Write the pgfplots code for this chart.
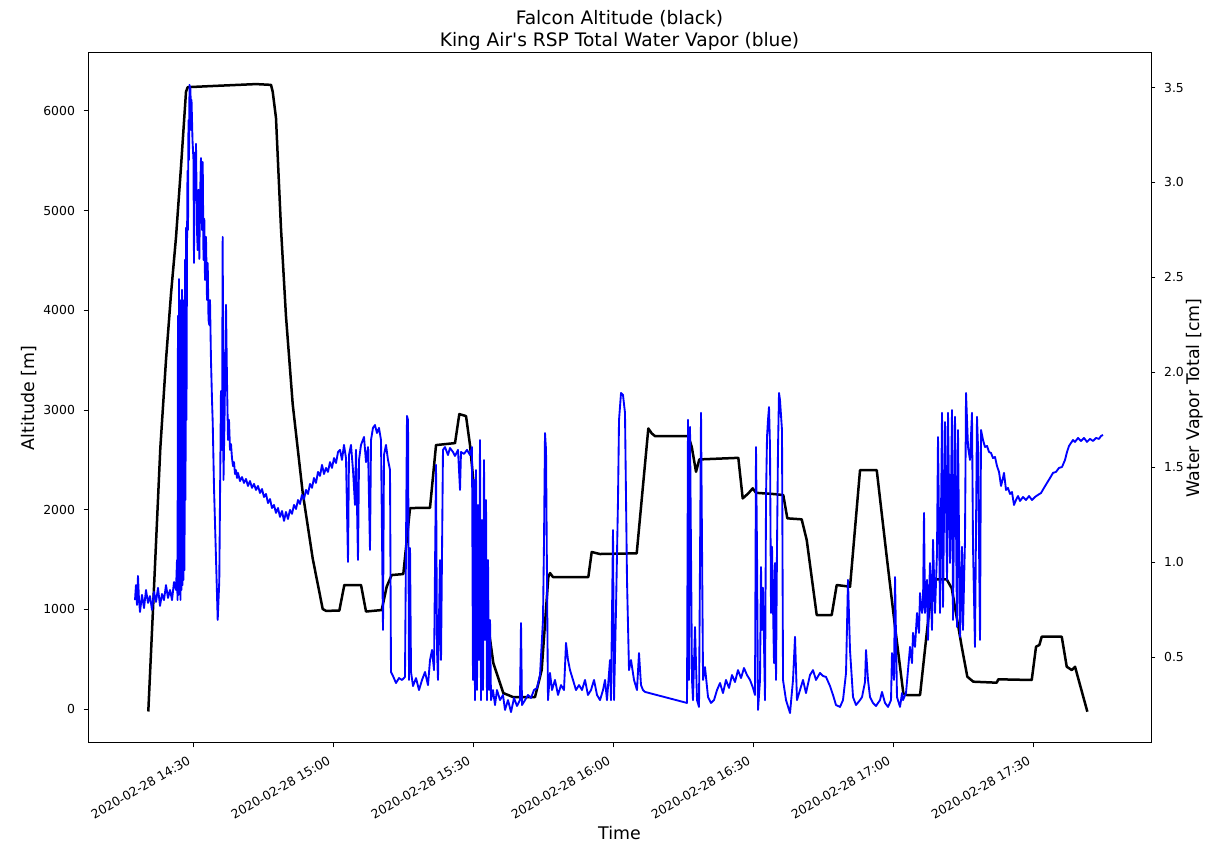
\documentclass[border=0pt]{standalone}
\usepackage{fontspec}
\setmainfont{DejaVu Sans}
\usepackage{pgfplots}
\pgfplotsset{compat=1.18}
\begin{document}
\begin{tikzpicture}[x=1pt,y=1pt]
\useasboundingbox (0,0) rectangle (1211,842);
\pgfplotsset{
  common/.style={
    at={(88pt,99pt)}, anchor=south west,
    scale only axis, width=1063pt, height=690pt,
    xmin=7.5, xmax=235.27,
    tick align=outside,
    major tick length=4.3pt,
    every tick/.style={black, line width=1pt},
    axis line style={black, line width=1pt},
    /pgf/number format/assume math mode=true,
    tick label style={font=\fontsize{12.4}{14}\selectfont},
  }
}
\begin{axis}[common,
  ymin=-341, ymax=6582,
  xtick={30,60,90,120,150,180,210},
  xticklabels={2020-02-28 14:30,2020-02-28 15:00,2020-02-28 15:30,2020-02-28 16:00,2020-02-28 16:30,2020-02-28 17:00,2020-02-28 17:30},
  xtick pos=left, ytick pos=left,
  ytick={0,1000,2000,3000,4000,5000,6000},
  /pgf/number format/1000 sep={},
  yticklabel style={anchor=east, inner sep=0pt, xshift=-8.6pt},
  xticklabel style={inner sep=0pt, text height=9.4pt, text depth=3pt, yshift=-19.3pt, rotate=30, anchor=south east},
]
\addplot[black, line width=2.5pt, line join=round] coordinates {
(20.42,-25) (21.71,1288) (22.99,2613) (24.21,3500) (25.28,4162) (26.36,4734) (27.43,5441) (28.50,6193) (28.86,6239) (33.86,6250) (43.50,6270) (46.71,6262) (47.08,6193) (47.78,5931) (48.85,4824) (49.92,3942) (51.36,3059) (53.50,2172) (55.65,1509) (57.79,1003) (58.5,985) (61.35,987) (62.42,1244) (66.00,1244) (67.07,978) (70.43,993) (71.50,1227) (72.57,1344) (75.06,1354) (76.50,2016) (80.78,2019) (82.07,2648) (86.14,2668) (87.06,2959) (88.50,2939) (89.35,2648) (91.07,1795) (92.78,993) (94.35,460) (96.49,160) (98.57,120) (103.28,120) (104.71,391) (106.13,1324) (106.50,1364) (107.14,1324) (114.70,1324) (115.43,1575) (117.21,1555) (125.07,1562) (127.56,2815) (128.29,2765) (129.00,2738) (136.13,2738) (136.86,2631) (137.78,2380) (138.48,2504) (146.84,2520) (147.78,2113) (148.98,2163) (149.92,2214) (150.63,2169) (154.70,2156) (156.48,2146) (157.34,1913) (160.42,1903) (161.50,1695) (163.64,943) (166.85,943) (167.92,1244) (170.78,1227) (172.92,2397) (176.50,2397) (178.64,1528) (180.42,825) (182.20,157) (182.93,140) (185.78,140) (187.21,759) (188.50,1301) (191.49,1301) (192.57,1211) (194.71,625) (195.91,324) (197.19,274) (202.21,264) (202.55,298) (209.71,291) (210.63,625) (211.34,642) (211.85,725) (216.14,725) (217.21,424) (218.28,391) (218.99,424) (220.06,241) (221.63,-27)
};
\end{axis}
\begin{axis}[common,
  ymin=0.047, ymax=3.682,
  axis y line*=right, axis x line=none,
  ytick={0.5,1,1.5,2,2.5,3,3.5},
  yticklabel style={/pgf/number format/.cd, fixed, fixed zerofill, precision=1, /tikz/.cd, anchor=west, inner sep=0pt, xshift=8.6pt},
]
\addplot[blue, line width=1.86pt, line join=round] coordinates {
(17.57,0.800)(17.78,0.879)(18.00,0.774)(18.21,0.927)(18.43,0.800)(18.64,0.737)(19.07,0.827)(19.50,0.758)(19.93,0.853)(20.36,0.785)(20.78,0.821)(21.21,0.748)(21.64,0.843)(22.07,0.790)(22.50,0.864)(22.93,0.769)(23.36,0.832)(23.78,0.800)(24.21,0.879)(24.64,0.811)(25.07,0.853)(25.50,0.800)(25.93,0.895)(26.36,0.853)(26.57,1.011)(26.68,0.800)(26.78,2.297)(26.89,0.827)(27.00,2.491)(27.10,0.853)(27.21,2.381)(27.32,0.800)(27.43,2.223)(27.53,0.853)(27.64,2.434)(27.75,0.879)(27.85,2.170)(27.96,0.906)(28.07,2.381)(28.18,0.958)(28.28,2.592)(28.39,1.327)(28.50,2.761)(28.60,1.749)(28.71,2.644)(28.82,3.061)(28.93,2.750)(29.03,3.329)(29.14,3.119)(29.25,3.514)(29.46,3.488)(29.57,3.277)(29.68,3.435)(29.89,3.224)(30.10,3.119)(30.21,2.576)(30.32,3.155)(30.53,2.908)(30.64,3.203)(30.85,2.750)(31.00,2.644)(31.18,2.961)(31.35,2.597)(31.50,2.908)(31.71,3.129)(31.93,2.750)(32.08,3.108)(32.25,2.592)(32.42,2.808)(32.57,2.486)(32.78,2.713)(33.00,2.381)(33.15,2.576)(33.32,2.276)(33.49,2.249)(33.64,2.381)(33.85,2.065)(34.07,1.854)(34.22,1.738)(34.50,1.391)(34.93,1.016)(35.29,0.695)(35.63,0.900)(35.99,1.901)(36.21,1.591)(36.36,2.713)(36.53,1.433)(36.75,1.749)(37.07,2.355)(37.28,1.959)(37.50,1.643)(37.71,1.749)
(37.93,1.591)(38.14,1.622)(38.35,1.548)(38.57,1.506)(38.78,1.527)(39.00,1.464)(39.21,1.485)(39.43,1.443)(39.64,1.470)(40.07,1.427)(40.50,1.448)(40.92,1.417)(41.35,1.438)(41.78,1.401)(42.21,1.427)(42.64,1.391)(43.07,1.412)(43.50,1.380)(43.93,1.401)(44.35,1.364)(44.78,1.385)(45.21,1.343)(45.64,1.359)(46.07,1.311)(46.50,1.332)(46.92,1.285)(47.35,1.301)(47.78,1.259)(48.21,1.285)(48.64,1.238)(49.07,1.269)(49.50,1.217)(49.92,1.264)(50.35,1.227)(50.78,1.275)(51.21,1.254)(51.64,1.301)(52.07,1.280)(52.50,1.327)(52.92,1.306)(53.35,1.354)(53.78,1.332)(54.21,1.380)(54.64,1.359)(55.07,1.412)(55.50,1.391)(55.92,1.443)(56.35,1.417)(56.78,1.475)(57.21,1.454)(57.64,1.512)(58.07,1.464)(58.50,1.496)(58.92,1.475)(59.35,1.527)(59.78,1.496)(60.21,1.548)(60.64,1.522)(61.07,1.580)(61.50,1.591)(61.92,1.538)(62.35,1.617)
(62.78,1.548)(63.21,1.001)(63.42,1.564)(63.85,1.617)(64.28,1.485)(64.71,1.301)(64.92,1.591)(65.35,1.011)(65.57,1.538)(65.99,1.617)(66.64,1.659)(67.07,1.527)(67.50,1.606)(67.92,1.064)(68.14,1.643)(68.56,1.707)(68.99,1.722)(69.42,1.680)(69.85,1.707)(70.28,1.643)(70.71,0.643)(70.92,1.564)(71.35,1.617)(71.78,1.538)(72.21,1.485)(72.42,0.421)(72.85,0.400)(73.49,0.363)(74.14,0.389)(74.78,0.379)(75.42,0.395)(75.85,1.770)(76.07,1.749)(76.28,0.379)(76.50,1.074)(76.71,0.421)(77.14,0.347)(77.78,0.389)(78.42,0.326)(79.07,0.379)(79.71,0.421)(80.35,0.352)(80.78,0.484)(81.21,0.537)(81.64,0.431)(82.07,1.512)(82.28,0.537)(82.49,0.379)(82.92,1.011)(83.14,0.484)(83.56,1.591)(83.99,1.606)(84.63,1.564)(85.06,1.601)(85.71,1.580)(86.13,1.559)(86.78,1.591)(87.21,1.380)(87.42,1.580)(88.06,1.570)(88.71,1.591)(89.35,1.564)(89.78,1.606)(89.99,0.379)(90.21,1.433)(90.42,0.273)(90.64,1.485)(90.85,0.326)(91.06,1.301)(91.28,0.484)(91.49,1.643)(91.71,0.273)(91.92,1.222)(92.14,0.326)(92.35,1.538)(92.56,0.590)(92.78,1.327)(92.99,0.273)(93.21,1.011)(93.42,0.326)(93.64,0.695)(93.85,0.273)(94.28,0.326)(94.71,0.247)(95.13,0.326)(95.78,0.273)(96.42,0.300)(96.85,0.221)(97.49,0.273)(98.14,0.210)(98.78,0.284)(99.42,0.242)(100.06,0.273)(100.28,0.679)(100.49,0.247)(101.14,0.273)(101.78,0.300)(102.42,0.284)(103.06,0.326)(103.71,0.337)(104.35,0.405)(104.99,0.695)(105.21,1.117)(105.42,1.680)(105.64,1.591)(105.85,0.906)(106.06,0.273)(106.49,0.416)(106.92,0.326)(107.56,0.379)(108.21,0.300)(108.85,0.352)(109.49,0.326)(109.92,0.574)(110.35,0.484)(110.78,0.431)(111.42,0.379)(112.06,0.326)(112.71,0.352)(113.35,0.326)(113.99,0.379)(114.63,0.300)(115.28,0.326)(115.92,0.379)(116.56,0.300)(117.21,0.273)(117.85,0.326)(118.28,0.379)(118.70,0.273)(119.35,0.484)(119.56,0.273)(119.99,1.169)(120.21,0.273)(120.63,0.748)(121.06,1.327)(121.28,1.749)(121.71,1.891)(122.13,1.881)(122.56,1.786)(122.99,0.906)(123.42,0.431)(123.85,0.484)(124.49,0.379)(125.13,0.326)(125.56,0.521)(125.99,0.352)(126.42,0.326)(126.85,0.316)(135.85,0.258)(136.06,1.749)(136.28,0.379)(136.49,1.712)(136.92,0.379)(137.13,0.273)(137.56,0.658)(137.99,0.273)(138.42,0.237)(138.85,1.786)(139.28,0.379)(139.70,0.447)(140.35,0.289)(140.99,0.258)(141.63,0.273)(142.28,0.326)(142.92,0.363)(143.56,0.310)(144.20,0.379)(144.85,0.337)(145.49,0.405)(146.13,0.368)(146.77,0.431)(147.42,0.389)(148.06,0.442)(148.70,0.405)(149.35,0.379)(149.99,0.337)(150.42,0.300)(150.63,1.606)(150.85,1.048)(151.06,0.221)(151.49,0.379)(151.70,0.974)(151.92,0.643)(152.13,0.864)(152.56,0.273)(152.78,1.343)(152.99,1.659)(153.20,1.749)(153.42,1.817)(153.63,1.606)(153.85,0.732)(154.06,1.080)(154.49,0.468)(154.70,0.995)(154.92,0.379)(155.13,1.080)(155.35,1.606)(155.56,1.891)(155.77,1.854)(156.20,1.696)(156.42,0.379)(157.06,0.273)(157.92,0.205)(158.56,0.379)(158.99,0.606)(159.41,0.273)(160.06,0.326)(160.70,0.379)(161.34,0.310)(162.20,0.405)(162.84,0.431)(163.49,0.379)(164.34,0.416)(164.99,0.400)(165.63,0.395)(166.49,0.347)(167.13,0.300)(167.77,0.247)(168.63,0.237)(169.27,0.273)(169.92,0.416)(170.34,0.906)(170.77,0.537)(171.42,0.289)(172.06,0.247)(172.92,0.273)(173.35,0.289)(173.99,0.368)(174.20,0.537)(174.63,0.379)(175.06,0.289)(175.70,0.258)(176.34,0.242)(177.20,0.273)(177.63,0.316)(178.27,0.258)(178.92,0.237)(179.56,0.273)(179.77,0.521)(180.20,0.379)(180.42,0.921)(180.84,0.289)(181.49,0.237)(181.92,0.310)(182.13,0.273)(182.77,0.310)(183.63,0.553)(184.06,0.468)(184.27,0.627)(184.70,0.553)(185.13,0.732)(185.56,0.627)(185.77,0.837)(186.20,0.732)(186.41,0.764)(186.63,1.259)(186.84,0.732)(187.27,0.906)(187.48,0.590)(187.91,0.995)(188.34,0.643)(188.56,1.117)(188.98,0.732)(189.41,1.048)(189.63,1.659)(190.06,0.732)(190.49,1.786)(190.70,0.764)(191.13,1.738)(191.56,0.906)(191.77,1.786)(192.20,0.995)(192.63,1.801)(192.84,0.695)(193.27,1.765)(193.70,0.658)(193.91,1.696)(194.34,0.606)(194.77,1.080)(194.98,0.643)(195.41,1.117)(195.63,1.891)(196.06,1.606)(196.48,1.538)(196.91,1.786)(197.13,1.080)(197.55,0.553)(197.98,1.765)(198.20,1.606)
(198.63,0.590)(198.84,1.696)(199.27,1.643)(199.70,1.606)(200.13,1.612)(200.56,1.580)(200.98,1.575)(201.41,1.548)(201.84,1.554)(202.27,1.506)(202.70,1.475)(203.13,1.401)(203.55,1.443)(203.77,1.470)(204.20,1.380)(204.62,1.391)(205.05,1.359)(205.48,1.369)(205.91,1.301)(206.34,1.327)(206.77,1.348)(207.20,1.322)(207.84,1.343)(208.48,1.327)(209.13,1.348)(209.77,1.327)(210.41,1.343)(211.05,1.354)(211.70,1.364)(212.34,1.391)(212.98,1.417)(213.63,1.443)(214.27,1.470)(214.91,1.475)(215.55,1.496)(216.20,1.501)(216.84,1.538)(217.27,1.580)(217.70,1.612)(218.13,1.628)(218.55,1.643)(218.98,1.633)(219.63,1.654)(220.27,1.638)(220.91,1.654)(221.55,1.633)(222.19,1.649)(222.84,1.638)(223.48,1.654)(224.12,1.649)(224.55,1.664)(224.98,1.670)
};
\end{axis}
\node[anchor=base, font=\fontsize{18.6}{22}\selectfont, inner sep=0pt] at (619.5,817) {Falcon Altitude (black)};
\node[anchor=base, font=\fontsize{18.6}{22}\selectfont, inner sep=0pt] at (619.5,795.5) {King Air\textquotesingle s RSP Total Water Vapor (blue)};
\node[anchor=base, font=\fontsize{17.4}{20}\selectfont, inner sep=0pt] at (619.5,2.5) {Time};
\node[anchor=base, rotate=90, font=\fontsize{17.4}{20}\selectfont, inner sep=0pt] at (35,444) {Altitude [m]};
\node[anchor=base, rotate=90, font=\fontsize{17.4}{20}\selectfont, inner sep=0pt] at (1199,444) {Water Vapor Total [cm]};
\end{tikzpicture}
\end{document}
